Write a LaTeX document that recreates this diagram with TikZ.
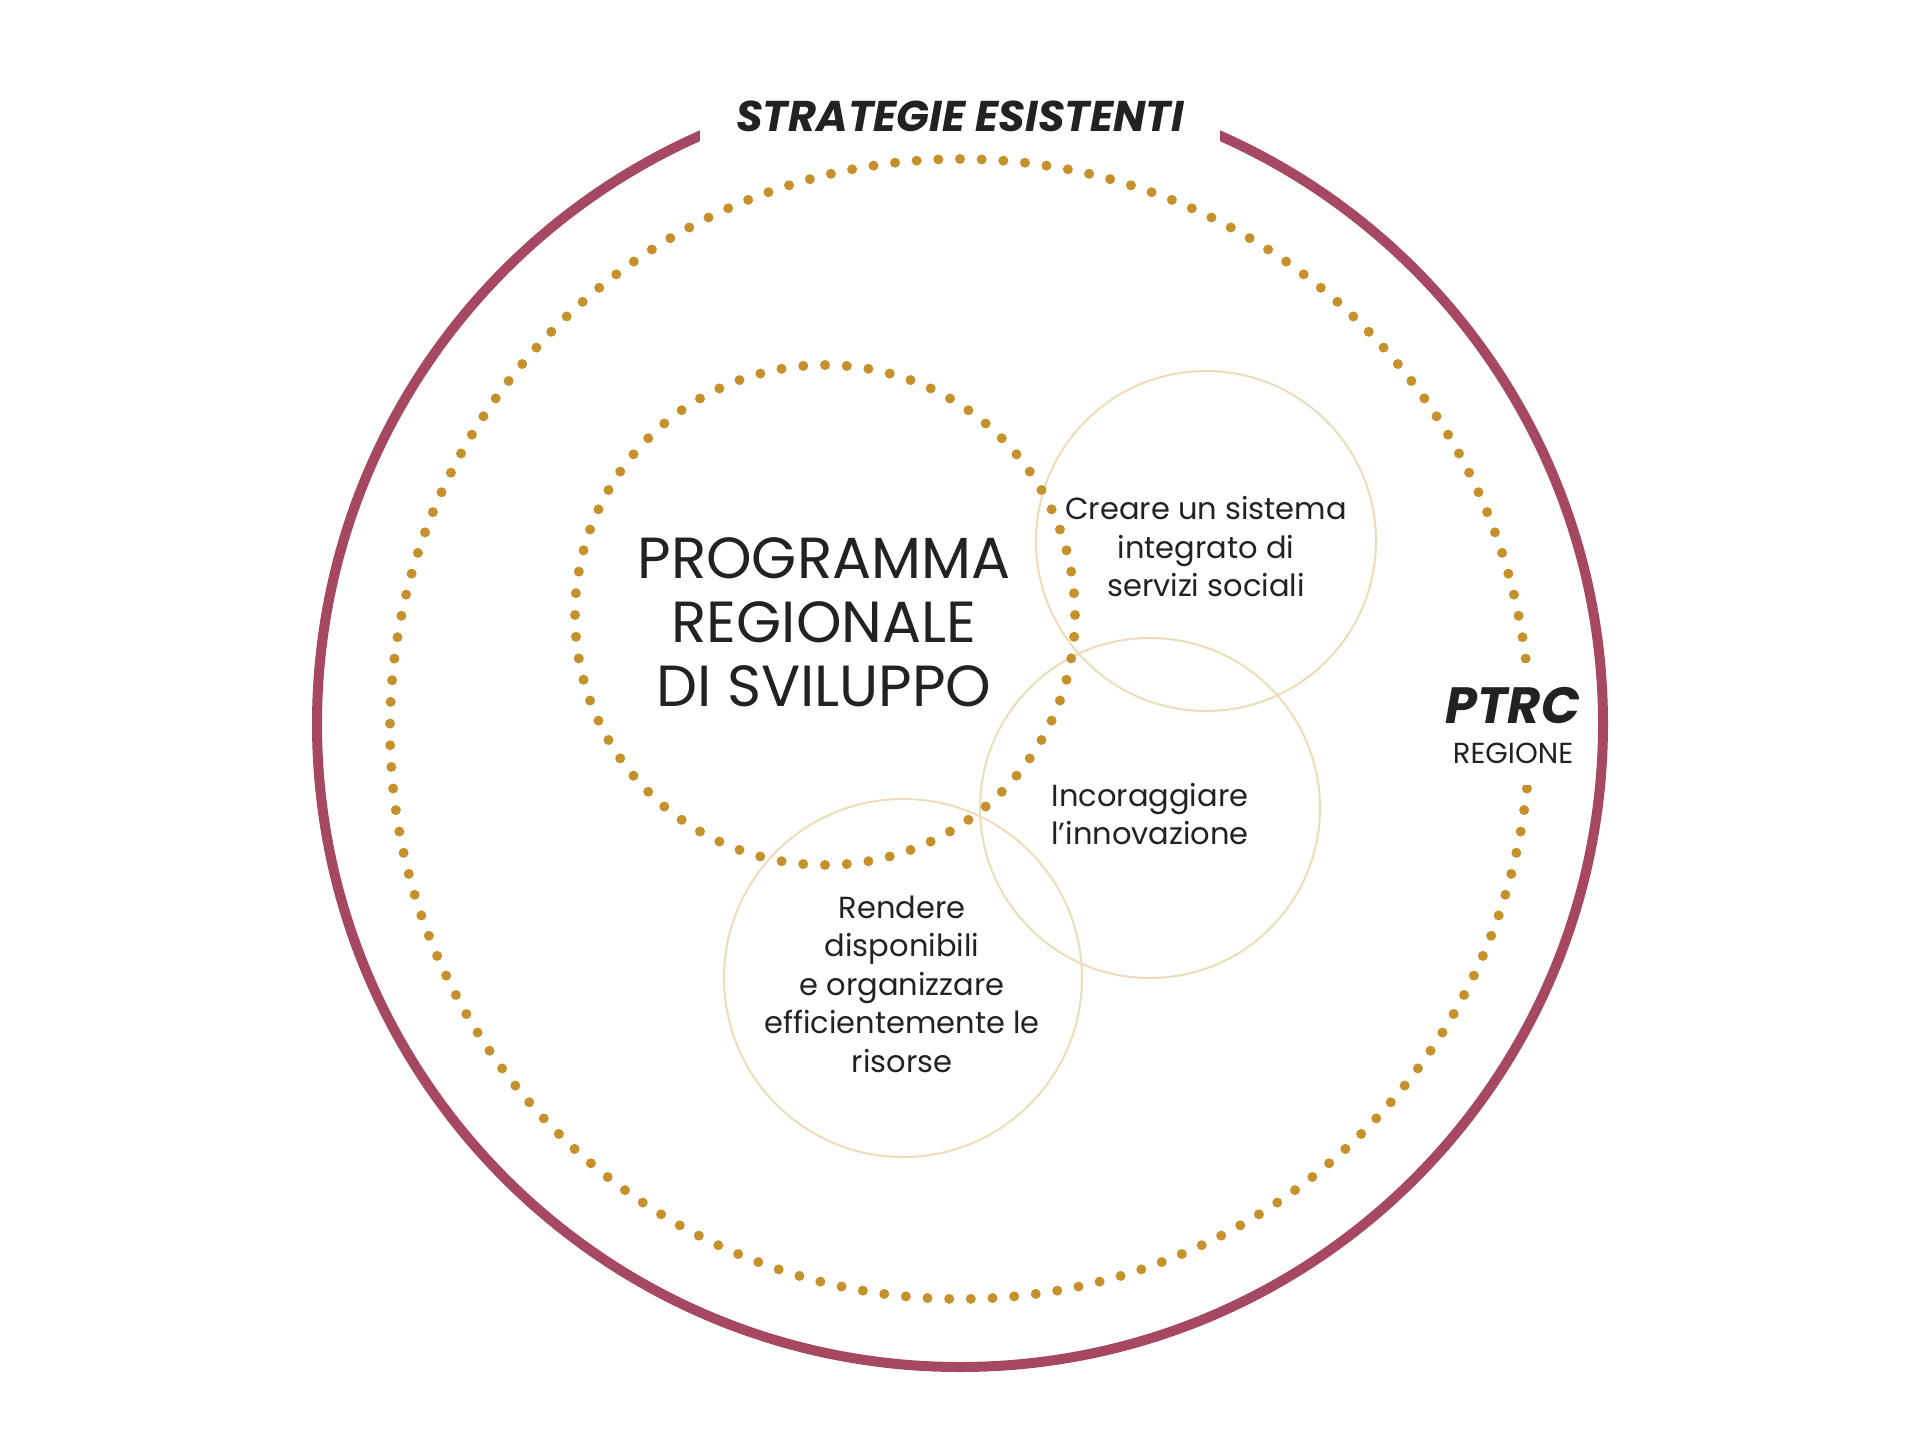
\documentclass[tikz,border=0pt]{standalone}
\usepackage{fontspec}
\setmainfont{Poppins}
\definecolor{maroon}{HTML}{A64862}
\definecolor{gold}{HTML}{C6912B}
\definecolor{beige}{HTML}{EEDCB8}
\definecolor{ink}{HTML}{222222}
\begin{document}
\begin{tikzpicture}[x=1pt,y=-1pt,
  ring/.style={draw=beige, line width=2pt, circle, inner sep=0pt},
  body/.style={text=ink, align=center, inner sep=0pt, font=\fontsize{30.5}{38.5}\selectfont},
  big/.style={text=ink, align=center, inner sep=0pt, font=\fontsize{58}{64}\selectfont},
  dot/.style={fill=gold}]
\useasboundingbox (0,0) rectangle (1920,1440);
\fill[white] (0,0) rectangle (1920,1440);
% outer ring
\node[draw=maroon, line width=10pt, circle, minimum size=1286pt, inner sep=0pt] (outer) at (960,724) {};
\node[fill=white, minimum width=520pt, minimum height=90pt, inner sep=0pt] (titlemask) at (960,116) {};
\node[text=ink, inner sep=0pt, font=\fontsize{43}{43}\selectfont\bfseries\itshape] (title) at (960,116) {STRATEGIE ESISTENTI};
% thin circles
\node[ring, minimum size=340pt] (c1) at (1206,541) {};
\node[ring, minimum size=340pt] (c2) at (1150,808) {};
\node[ring, minimum size=358pt] (c3) at (903,978) {};
% big dotted circle
\foreach \i in {0,...,164} \fill[dot] (960,729) ++({90+\i*2.181818}:570pt) circle[radius=5pt];
% inner dotted circle
\foreach \i in {0,...,71} \fill[dot] (825,615) ++({90+\i*5}:250pt) circle[radius=5pt];
% PTRC mask and labels
\node[fill=white, minimum width=150pt, minimum height=122pt, inner sep=0pt] (ptrcmask) at (1515,724) {};
\node[text=ink, inner sep=0pt, font=\fontsize{51}{51}\selectfont\bfseries\itshape] (ptrc) at (1513,706) {PTRC};
\node[text=ink, inner sep=0pt, font=\fontsize{29}{29}\selectfont] (regione) at (1513,753) {REGIONE};
% texts
\node[big] (prs) at (824,622) {PROGRAMMA\\REGIONALE\\DI SVILUPPO};
\node[body] (t1) at (1206,547) {Creare un sistema\\integrato di\\servizi sociali};
\node[body] (t2) at (1150,814) {Incoraggiare\\l’innovazione};
\node[body] (t3) at (902,984) {Rendere\\disponibili\\e organizzare\\efficientemente le\\risorse};
\end{tikzpicture}
\end{document}
